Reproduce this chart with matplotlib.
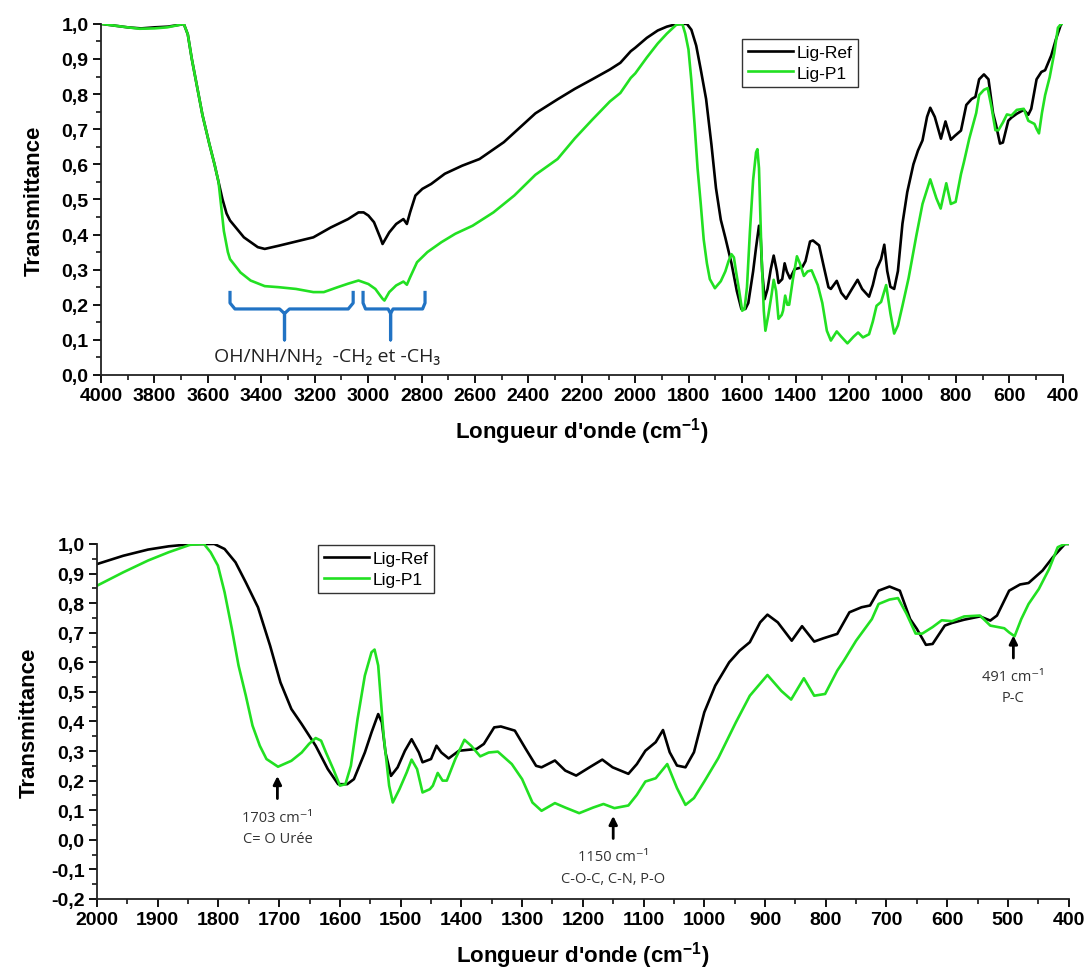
import matplotlib
matplotlib.use("Agg")
import matplotlib.pyplot as plt
from matplotlib.ticker import MultipleLocator, FuncFormatter
import numpy as np

plt.rcParams['font.family'] = ['Liberation Sans', 'DejaVu Sans']
plt.rcParams['mathtext.fontset'] = 'custom'
plt.rcParams['mathtext.rm'] = 'Liberation Sans'
plt.rcParams['mathtext.bf'] = 'Liberation Sans:bold'

# ---- spectra (wavenumber cm-1, transmittance) ----
ref_x = [4000, 3950, 3900, 3850, 3800, 3750, 3700, 3690, 3675, 3660, 3645, 3620, 3595, 3575, 3560,
         3545, 3530, 3517, 3465, 3413, 3387, 3335, 3270, 3205, 3140, 3075, 3036, 3017, 2999, 2978, 2953,
         2946, 2921, 2895, 2868, 2855, 2843, 2823, 2797, 2764, 2713, 2648, 2583, 2492, 2374,
         2291, 2226, 2161, 2095, 2056, 2017,
         2000, 1957, 1916, 1882, 1847, 1807, 1790, 1772, 1755, 1735, 1715, 1698, 1680, 1663,
         1640, 1620, 1603, 1588, 1577, 1559, 1548, 1537, 1531, 1525, 1516, 1505, 1493, 1482,
         1470, 1464, 1450, 1441, 1433, 1421, 1404, 1375, 1363, 1346, 1335, 1312, 1294, 1277,
         1268, 1246, 1229, 1211, 1189, 1168, 1151, 1125, 1111, 1097, 1080, 1068, 1057, 1045,
         1031, 1017, 1000, 982, 959, 942, 925, 908, 896, 879, 856, 839, 819, 804, 781, 761,
         741, 727, 713, 695, 678, 661, 650, 635, 624, 604, 592, 572, 546, 529, 518, 498, 480,
         466, 443, 426, 406, 400]
ref_y = [1.0, 0.995, 0.99, 0.987, 0.99, 0.992, 0.998, 1.0, 0.97, 0.9, 0.84, 0.74, 0.66, 0.6, 0.55,
         0.5, 0.46, 0.44, 0.392, 0.364, 0.359, 0.368, 0.38, 0.392, 0.42, 0.444, 0.463, 0.463, 0.454, 0.435, 0.388,
         0.373, 0.406, 0.43, 0.444, 0.43, 0.463, 0.511, 0.53, 0.544, 0.573, 0.596, 0.615, 0.663, 0.745,
         0.785, 0.815, 0.842, 0.87, 0.889, 0.922,
         0.932, 0.96, 0.981, 0.992, 0.999, 1.0, 0.983, 0.938, 0.87, 0.786, 0.656, 0.532, 0.442, 0.391,
         0.318, 0.239, 0.188, 0.188, 0.205, 0.295, 0.363, 0.425, 0.397, 0.295, 0.216, 0.245, 0.301, 0.34,
         0.295, 0.262, 0.273, 0.318, 0.295, 0.275, 0.301, 0.307, 0.324, 0.38, 0.383, 0.369, 0.307, 0.25,
         0.245, 0.268, 0.234, 0.217, 0.245, 0.271, 0.245, 0.223, 0.256, 0.301, 0.33, 0.371, 0.296, 0.251,
         0.245, 0.296, 0.431, 0.521, 0.6, 0.639, 0.668, 0.735, 0.761, 0.735, 0.673, 0.722, 0.67, 0.681, 0.696, 0.769,
         0.786, 0.792, 0.842, 0.856, 0.842, 0.746, 0.713, 0.659, 0.662, 0.724, 0.733, 0.744, 0.755, 0.741, 0.758, 0.842, 0.863,
         0.868, 0.91, 0.955, 1.0, 1.0]

p1_x = [4000, 3900, 3855, 3800, 3752, 3700, 3690, 3675, 3660, 3645, 3620, 3595, 3575, 3560,
        3550, 3540, 3525, 3517,
        3478, 3440, 3387, 3335, 3270, 3205, 3166, 3114, 3075, 3036, 3017, 2999, 2973, 2946,
        2939, 2921, 2895, 2868, 2855, 2843, 2817, 2778, 2726, 2674, 2609, 2531, 2453, 2374,
        2291, 2226, 2161, 2095, 2056, 2017,
        2000, 1957, 1916, 1882, 1847, 1824, 1813, 1801, 1790, 1778, 1767, 1755, 1744, 1732,
        1721, 1702, 1680, 1663, 1651, 1640, 1631, 1623, 1611, 1600, 1591, 1582, 1571, 1559,
        1548, 1543, 1537, 1528, 1519, 1513, 1502, 1490, 1482, 1473, 1464, 1452, 1447, 1439,
        1431, 1424, 1410, 1395, 1384, 1369, 1355, 1340, 1317, 1300, 1283, 1268, 1246, 1229,
        1206, 1183, 1166, 1148, 1125, 1111, 1097, 1080, 1061, 1045, 1031, 1017, 1000, 977,
        948, 925, 896, 873, 857, 836, 819, 801, 781, 770, 750, 724, 713, 695, 681, 667, 652,
        641, 624, 609, 592, 572, 546, 529, 506, 498, 489, 478, 466, 449, 432, 418, 406, 400]
p1_y = [1.0, 0.99, 0.986, 0.987, 0.99, 0.998, 1.0, 0.97, 0.9, 0.84, 0.74, 0.66, 0.6, 0.55,
        0.48, 0.41, 0.35, 0.33,
        0.292, 0.269, 0.253, 0.25, 0.245, 0.236, 0.236, 0.25, 0.26, 0.269, 0.264, 0.259, 0.245, 0.217,
        0.212, 0.236, 0.255, 0.266, 0.257, 0.278, 0.321, 0.35, 0.378, 0.402, 0.425, 0.463, 0.511, 0.57,
        0.615, 0.674, 0.727, 0.779, 0.803, 0.846,
        0.859, 0.904, 0.944, 0.972, 0.997, 1.0, 0.972, 0.927, 0.837, 0.713, 0.589, 0.487, 0.386, 0.318,
        0.273, 0.247, 0.267, 0.295, 0.324, 0.344, 0.335, 0.295, 0.239, 0.183, 0.188, 0.25, 0.408, 0.555,
        0.634, 0.643, 0.589, 0.352, 0.183, 0.126, 0.171, 0.228, 0.271, 0.239, 0.16, 0.171, 0.183, 0.226,
        0.2, 0.2, 0.273, 0.338, 0.318, 0.282, 0.295, 0.298, 0.256, 0.205, 0.126, 0.098, 0.124, 0.109,
        0.09, 0.109, 0.121, 0.107, 0.116, 0.152, 0.197, 0.208, 0.256, 0.175, 0.118, 0.141, 0.197, 0.276,
        0.397, 0.487, 0.557, 0.503, 0.474, 0.546, 0.487, 0.493, 0.572, 0.606, 0.673, 0.746, 0.797, 0.812, 0.817, 0.764, 0.697,
        0.697, 0.719, 0.742, 0.739, 0.755, 0.758, 0.724, 0.715, 0.701, 0.688, 0.746, 0.797, 0.848, 0.916, 0.989, 1.0, 1.0]

labels = ['Lig-Ref', 'Lig-P1']
colors = ['black', '#22e022']

# band annotations
brace_spans = [(3517, 3313, 3056), (3019, 2916, 2787)]   # left, stem, right
peak_x = [1703, 1150, 491]
peak_text = ['C= O Urée', 'C-O-C, C-N, P-O', 'P-C']
peak_head = [0.225, 0.09, 0.70]

blue = '#2173c4'
note_font = ['Open Sans', 'DejaVu Sans']


def comma(v, pos):
    return ('%.1f' % v).replace('.', ',')


def style_axes(ax, xmaj, xmin):
    for s in ['top', 'right']:
        ax.spines[s].set_visible(False)
    for s in ['left', 'bottom']:
        ax.spines[s].set_linewidth(1.3)
        ax.spines[s].set_color('#222222')
    ax.xaxis.set_major_locator(MultipleLocator(xmaj))
    ax.xaxis.set_minor_locator(MultipleLocator(xmin))
    ax.yaxis.set_major_locator(MultipleLocator(0.1))
    ax.yaxis.set_minor_locator(MultipleLocator(0.05))
    ax.yaxis.set_major_formatter(FuncFormatter(comma))
    ax.tick_params(which='major', direction='out', length=6, width=1.3, labelsize=14, pad=3)
    ax.tick_params(which='minor', direction='out', length=3.5, width=1.1)
    for lab in ax.get_xticklabels() + ax.get_yticklabels():
        lab.set_fontweight('bold')
    ax.set_ylabel('Transmittance', fontsize=16, fontweight='bold')
    ax.set_xlabel("Longueur d'onde (cm$^{\\mathbf{-1}}$)", fontsize=16, fontweight='bold')


fig = plt.figure(figsize=(10.88, 9.70), dpi=100)
ax1 = fig.add_axes([0.0928, 0.6124, 0.884, 0.362])
ax2 = fig.add_axes([0.0892, 0.0722, 0.893, 0.366])

for ax in (ax1, ax2):
    ax.plot(ref_x, ref_y, color=colors[0], lw=1.9, label=labels[0])
    ax.plot(p1_x, p1_y, color=colors[1], lw=1.9, label=labels[1])

ax1.set_xlim(4000, 400)
ax1.set_ylim(0.0, 1.0)
style_axes(ax1, 200, 100)
ax1.xaxis.labelpad = 8
ax1.yaxis.labelpad = 12

ax2.set_xlim(2000, 400)
ax2.set_ylim(-0.2, 1.0)
style_axes(ax2, 100, 50)
ax2.xaxis.labelpad = 8
ax2.yaxis.labelpad = 8

for ax, anchor in ((ax1, (0.666, 0.957)), (ax2, (0.227, 0.997))):
    leg = ax.legend(loc='upper left', bbox_to_anchor=anchor, borderaxespad=0, fancybox=False,
                    edgecolor='#333333', fontsize=12.5, handlelength=2.6, handletextpad=0.2,
                    borderpad=0.35, labelspacing=0.3, framealpha=1)
    leg.get_frame().set_linewidth(1.0)

# braces on the top panel
for left, stem, right in brace_spans:
    w = (left - right) * 0.04
    bx = [left, left, left - w, stem + w, stem, stem, stem, stem - w, right + w, right, right]
    by = [0.235, 0.205, 0.188, 0.188, 0.175, 0.10, 0.175, 0.188, 0.188, 0.205, 0.235]
    ax1.plot(bx, by, color=blue, lw=2.3, solid_joinstyle='round')
ax1.text(3153, 0.055, 'OH/NH/NH\u2082  -CH\u2082 et -CH\u2083', family=note_font,
         fontsize=14, ha='center', va='center', color='#222222')

# arrows on the bottom panel
for px, txt, hy in zip(peak_x, peak_text, peak_head):
    ax2.annotate('', xy=(px, hy), xytext=(px, hy - 0.095),
                 arrowprops=dict(arrowstyle='-|>', color='black', lw=2, mutation_scale=12))
    ax2.text(px, hy - 0.148, '%d cm\u207b\u00b9' % px, family=note_font, fontsize=10.5,
             ha='center', va='center', color='#333333')
    ax2.text(px, hy - 0.22, txt, family=note_font, fontsize=10.5,
             ha='center', va='center', color='#333333')

plt.savefig('out.png', dpi=100)
